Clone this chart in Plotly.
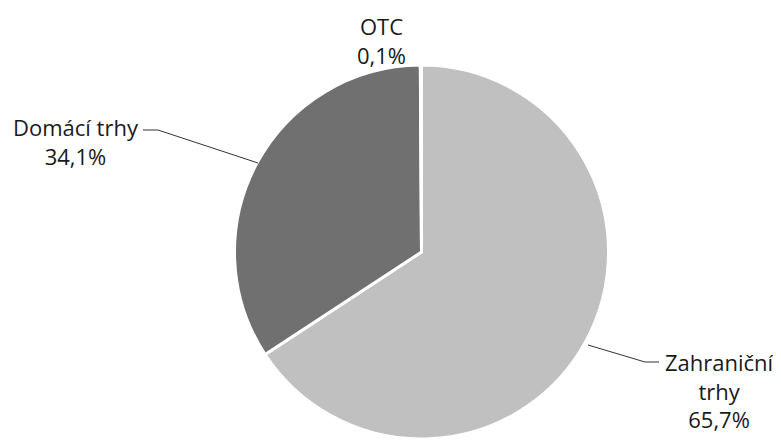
import plotly.graph_objects as go

labels = ["Zahraniční trhy", "Domácí trhy", "OTC"]
values = [65.7, 34.1, 0.1]
value_text = ["65,7%", "34,1%", "0,1%"]
colors = ["#c0c0c0", "#707070", "#9a9a9a"]

W, H = 781, 441
OFF = 8  # page body margin offset
cx, cy, r = 421.5 - OFF, 252 - OFF, 187

fig = go.Figure(go.Pie(
    labels=labels, values=values, sort=False, direction="clockwise", rotation=0,
    marker=dict(colors=colors, line=dict(color="white", width=3)),
    textinfo="none", hoverinfo="label+percent", showlegend=False,
    domain=dict(x=[(cx - r) / W, (cx + r) / W], y=[(H - cy - r) / H, (H - cy + r) / H]),
))

font = dict(family="Open Sans", size=22, color="#1a1a1a")

def px(x):
    return (x - OFF) / W

def py(y):
    return 1 - (y - OFF) / H

ann = [
    (76, 142, labels[1] + "<br>" + value_text[1]),
    (381, 40, labels[2] + "<br>" + value_text[2]),
    (719, 390, "Zahraniční<br>trhy<br>" + value_text[0]),
]
for x, y, t in ann:
    fig.add_annotation(x=px(x), y=py(y), xref="paper", yref="paper", text=t,
                       showarrow=False, font=font, align="center", xanchor="center", yanchor="middle")

line = dict(color="#333333", width=1)
segs = [
    ((143, 130), (158, 130)),
    ((158, 130), (258, 163)),
    ((588, 345), (645, 362)),
    ((645, 362), (659, 362)),
]
for (x0, y0), (x1, y1) in segs:
    fig.add_shape(type="line", xref="paper", yref="paper",
                  x0=px(x0), y0=py(y0), x1=px(x1), y1=py(y1), line=line)

fig.update_layout(width=W, height=H, margin=dict(l=0, r=0, t=0, b=0),
                  paper_bgcolor="white", plot_bgcolor="white")
fig.write_html("out.html")
